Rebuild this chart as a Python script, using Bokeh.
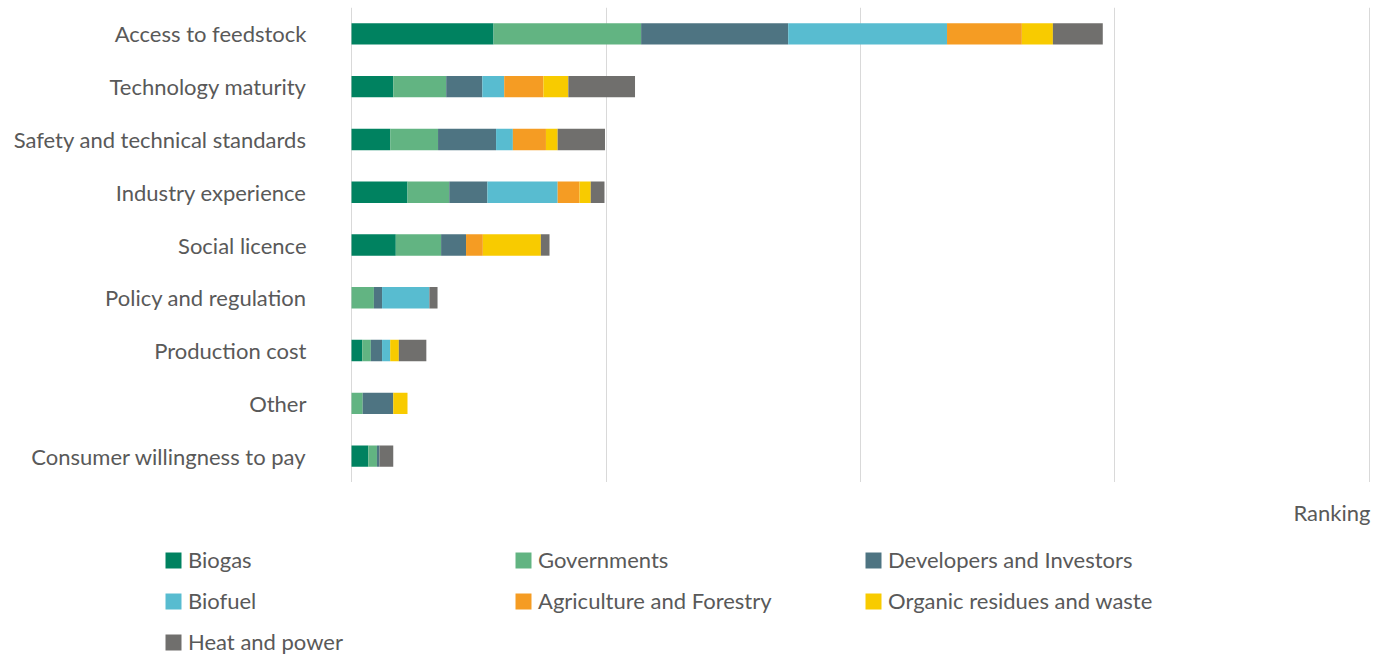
from bokeh.plotting import figure
from bokeh.layouts import column
from bokeh.models import ColumnDataSource, FactorRange, Range1d, FixedTicker, Legend, LegendItem, Label
from bokeh.embed import file_html
from bokeh.resources import INLINE

categories = ["Access to feedstock", "Technology maturity", "Safety and technical standards",
              "Industry experience", "Social licence", "Policy and regulation",
              "Production cost", "Other", "Consumer willingness to pay"]

series_names = ["Biogas", "Governments", "Developers and Investors", "Biofuel",
                "Agriculture and Forestry", "Organic residues and waste", "Heat and power"]

biogas      = [27.9, 8.2, 7.6, 11.0, 8.7, 0.0, 2.1, 0.0, 3.3]
governments = [29.0, 10.4, 9.4, 8.2, 8.9, 4.4, 1.7, 2.2, 1.7]
developers  = [28.9, 7.1, 11.4, 7.5, 4.9, 1.6, 2.2, 6.0, 0.5]
biofuel     = [31.2, 4.3, 3.3, 13.8, 0.0, 9.3, 1.6, 0.0, 0.0]
agriculture = [14.7, 7.7, 6.5, 4.3, 3.3, 0.0, 0.0, 0.0, 0.0]
organic     = [6.1, 4.9, 2.3, 2.2, 11.4, 0.0, 1.7, 2.8, 0.0]
heat        = [9.8, 13.1, 9.3, 2.7, 1.7, 1.6, 5.4, 0.0, 2.7]

grid_ticks = [0, 50, 100, 150, 200]
axis_title = "Ranking"

colors = ["#008260", "#62B482", "#4E7482", "#58BCD0", "#F59C23", "#F8CB00", "#706F6D"]
FONT = "Lato"
TXT = "#595959"
FS = "22px"

keys = ["biogas", "governments", "developers", "biofuel", "agriculture", "organic", "heat"]
source = ColumnDataSource(dict(cat=categories, biogas=biogas, governments=governments,
                               developers=developers, biofuel=biofuel, agriculture=agriculture,
                               organic=organic, heat=heat))

# ---- main chart ----
p = figure(width=1382, height=482, y_range=FactorRange(factors=categories[::-1]),
           x_range=Range1d(grid_ticks[0] - 0.2, grid_ticks[-1] + 0.2),
           output_backend="svg", toolbar_location=None,
           min_border_left=350, min_border_right=12, min_border_top=7, min_border_bottom=0)
p.frame_align = False

p.hbar_stack(keys, y="cat", height=0.405, color=colors, line_color=None, source=source)

p.outline_line_color = None
p.ygrid.visible = False
p.xgrid.ticker = FixedTicker(ticks=grid_ticks)
p.xgrid.grid_line_color = "#D9D9D9"
p.xaxis.visible = False

p.yaxis.axis_line_color = None
p.yaxis.major_tick_line_color = None
p.yaxis.minor_tick_line_color = None
p.yaxis.major_tick_out = 0
p.yaxis.major_tick_in = 0
p.yaxis.major_label_standoff = 44
p.yaxis.major_label_text_font = FONT
p.yaxis.major_label_text_font_size = FS
p.yaxis.major_label_text_color = TXT

# ---- legend / axis-title strip ----
q = figure(width=1382, height=173, x_range=Range1d(0, 1382), y_range=Range1d(0, 173),
           output_backend="svg", toolbar_location=None,
           min_border_left=0, min_border_right=0, min_border_top=0, min_border_bottom=0)
q.frame_align = False
q.axis.visible = False
q.grid.visible = False
q.outline_line_color = None

nan = float("nan")
swatches = [q.hbar(y=[nan], right=[nan], height=1, color=c, line_color=None) for c in colors]

q.add_layout(Label(x=1370, y=143, x_units="screen", y_units="screen", text=axis_title,
                   text_align="right", text_baseline="middle", text_font=FONT,
                   text_font_size=FS, text_color=TXT))

items = [LegendItem(label=n, renderers=[r]) for n, r in zip(series_names, swatches)]
leg = Legend(items=items, location=(163, 0), orientation="horizontal", ncols=3,
             glyph_width=20, glyph_height=20, label_height=16, spacing=14,
             label_width=311, label_standoff=5, padding=0, margin=0,
             border_line_color=None, background_fill_alpha=0,
             label_text_font=FONT, label_text_font_size=FS, label_text_color=TXT)
q.add_layout(leg, "center")

layout = column(p, q, spacing=0)
open("out.html", "w").write(file_html(layout, INLINE))
